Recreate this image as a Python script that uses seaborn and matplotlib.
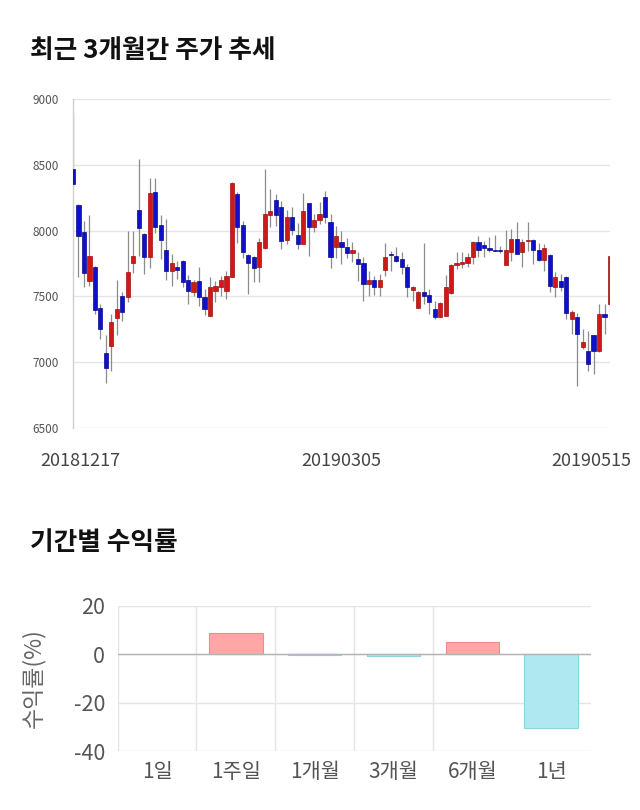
import numpy as np
import pandas as pd
import matplotlib
matplotlib.use('Agg')
import matplotlib.pyplot as plt
import matplotlib.transforms as mtransforms
import seaborn as sns

# ---------------- data: daily candles 20181217 .. 20190515 ----------------
opens = [8470, 8195, 7987, 7615, 7725, 7410, 7070, 7125, 7335, 7505,
         7497, 7753, 8157, 7974, 7796, 8292, 8045, 7855, 7695, 7725,
         7766, 7624, 7535, 7614, 7492, 7352, 7542, 7568, 7542, 7651,
         8279, 8045, 7817, 7796, 7725, 7865, 8122, 8236, 8177, 7928,
         8101, 7966, 7898, 8208, 8025, 8081, 8254, 8063, 7873, 7916,
         7873, 7827, 7784, 7753, 7593, 7624, 7573, 7702, 7822, 7804,
         7784, 7725, 7547, 7415, 7535, 7509, 7408, 7344, 7352, 7524,
         7740, 7746, 7753, 7801, 7916, 7893, 7867, 7848, 7855, 7740,
         7834, 7936, 7834, 7918, 7929, 7855, 7776, 7814, 7573, 7614,
         7644, 7326, 7344, 7116, 7085, 7207, 7085, 7367, 7441]
highs = [8890, 8200, 8075, 8120, 7730, 7445, 7205, 7365, 7625, 7530,
         8000, 8000, 8545, 7980, 8400, 8400, 8120, 8090, 7822, 7770,
         7776, 7664, 7624, 7725, 7555, 7645, 7620, 7657, 7695, 8373,
         8290, 8070, 7820, 7810, 7941, 8465, 8317, 8280, 8228, 8157,
         8177, 8055, 8284, 8210, 8127, 8216, 8300, 8127, 8038, 7994,
         7941, 7911, 7834, 7801, 7695, 7657, 7674, 7903, 7847, 7873,
         7834, 7746, 7580, 7542, 7903, 7555, 7466, 7460, 7664, 7746,
         7834, 7834, 7827, 7920, 7961, 7923, 7954, 7966, 7885, 8005,
         8012, 8063, 7936, 8063, 7935, 7903, 7898, 7822, 7682, 7669,
         7657, 7395, 7377, 7250, 7237, 7210, 7446, 7446, 7809]
lows = [8320, 7645, 7575, 7580, 7365, 7180, 6845, 6935, 7210, 7310,
        7455, 7675, 7810, 7670, 7715, 7985, 7785, 7625, 7580, 7630,
        7573, 7446, 7505, 7425, 7360, 7350, 7455, 7505, 7480, 7650,
        7903, 7795, 7522, 7606, 7606, 7860, 8025, 8038, 7860, 7898,
        7966, 7860, 7895, 7810, 7992, 8050, 8055, 7715, 7795, 7746,
        7791, 7758, 7619, 7466, 7504, 7512, 7504, 7657, 7695, 7758,
        7669, 7492, 7466, 7415, 7441, 7370, 7326, 7340, 7350, 7520,
        7707, 7715, 7720, 7746, 7801, 7796, 7834, 7842, 7827, 7735,
        7771, 7820, 7720, 7847, 7746, 7770, 7695, 7530, 7492, 7542,
        7326, 7212, 6818, 7098, 6933, 6907, 7080, 7212, 7339]
closes = [8355, 7960, 7680, 7805, 7395, 7250, 6955, 7305, 7405, 7385,
          7682, 7805, 8017, 7800, 8284, 8025, 7925, 7695, 7753, 7703,
          7611, 7542, 7606, 7492, 7408, 7568, 7580, 7626, 7657, 8365,
          8025, 7835, 7753, 7713, 7916, 8127, 8147, 8122, 7918, 8101,
          8005, 7898, 8147, 8030, 8081, 8127, 8106, 7796, 7961, 7873,
          7827, 7855, 7746, 7593, 7624, 7573, 7624, 7796, 7814, 7771,
          7725, 7568, 7568, 7535, 7504, 7461, 7344, 7453, 7568, 7740,
          7753, 7758, 7801, 7916, 7855, 7865, 7855, 7844, 7842, 7855,
          7936, 7822, 7916, 7929, 7855, 7776, 7867, 7580, 7644, 7573,
          7377, 7385, 7212, 7156, 6984, 7085, 7367, 7347, 7809]
date_tick_pos = [0, 49, 98]
date_tick_labels = ['20181217', '20190305', '20190515']
price_ticks = [6500, 7000, 7500, 8000, 8500, 9000]

# ---------------- data: period returns ----------------
periods = ['1일', '1주일', '1개월', '3개월', '6개월', '1년']
returns = [0.0, 8.9, -0.2, -0.7, 5.2, -30.3]
return_ticks = [20, 0, -20, -40]

# ---------------- style ----------------
sns.set_theme(style='white')
plt.rcParams['font.family'] = ['Noto Sans CJK KR', 'DejaVu Sans']

W, H = 640, 810
fig = plt.figure(figsize=(W / 100, H / 100), dpi=100)
fig.patch.set_facecolor('white')


def rect(l, t, r, b):
    return [l / W, 1 - b / H, (r - l) / W, (b - t) / H]


# ---------------- candle chart ----------------
df = pd.DataFrame({'open': opens, 'high': highs, 'low': lows, 'close': closes})
df['idx'] = np.arange(len(df))
df['up'] = df['close'] >= df['open']
df['bottom'] = df[['open', 'close']].min(axis=1)
df['height'] = (df['close'] - df['open']).abs().clip(lower=7)

ax1 = fig.add_axes(rect(73, 99, 610, 428))
ax1.set_facecolor('white')
for yv in price_ticks:
    ax1.axhline(yv, color='#e6e6e6', lw=1, zorder=0)

ax1.vlines(df['idx'], df['low'], df['high'], color='#8c8c8c', lw=0.9, zorder=2)
face = np.where(df['up'], '#d01818', '#1010c8')
edge = np.where(df['up'], '#a01010', '#08088c')
ax1.bar(df['idx'], df['height'], bottom=df['bottom'], width=0.76,
        color=face, edgecolor=edge, linewidth=0.5, zorder=3)

ax1.set_xlim(0, len(df) - 1)
ax1.set_ylim(6500, 9000)
ax1.set_yticks(price_ticks)
ax1.set_yticklabels([str(t) for t in price_ticks])
ax1.set_xticks(date_tick_pos)
ax1.set_xticklabels(date_tick_labels)
ax1.tick_params(axis='y', length=0, pad=10, labelsize=8.5, labelcolor='#555555')
ax1.tick_params(axis='x', length=0, pad=17, labelsize=13, labelcolor='#444444')
for s in ['top', 'right', 'bottom']:
    ax1.spines[s].set_visible(False)
ax1.spines['left'].set_color('#d0d0d0')
ax1.spines['left'].set_linewidth(1)

labs = ax1.get_xticklabels()
shifts = [7, 0, -19]
for lab, dx in zip(labs, shifts):
    lab.set_transform(lab.get_transform() +
                      mtransforms.ScaledTranslation(dx / 100, 0, fig.dpi_scale_trans))

# ---------------- returns bar chart ----------------
ax2 = fig.add_axes(rect(117.6, 605.7, 590.6, 751))
ax2.set_facecolor('white')
pal = ['#ffa6a6' if v > 0 else '#b0e8f2' for v in returns]
edges = ['#f08c8c' if v > 0 else ('#8fd3e0' if v < 0 else 'none') for v in returns]
sns.barplot(x=periods, y=returns, hue=periods, hue_order=periods, order=periods,
            palette=pal, legend=False, width=0.68, saturation=1, ax=ax2, zorder=3)
for patch, ec in zip(ax2.patches, edges):
    patch.set_edgecolor(ec)
    patch.set_linewidth(0.8)

ax2.set_xlim(-0.5, 5.5)
ax2.set_ylim(-40, 20)
ax2.set_yticks(return_ticks)
ax2.set_yticklabels([str(t) for t in return_ticks])
ax2.set_xticks(np.arange(len(periods)))
ax2.set_xticklabels(periods)
ax2.set_xticks(np.arange(len(periods) - 1) - 0.5, minor=True)
ax2.grid(axis='y', which='major', color='#e4e4e4', lw=1, zorder=0)
ax2.grid(axis='x', which='minor', color='#e4e4e4', lw=1, zorder=0)
ax2.grid(axis='x', which='major', visible=False)
ax2.axhline(0, color='#b4b4b4', lw=1, zorder=4)
ax2.tick_params(axis='both', which='both', length=0)
ax2.tick_params(axis='y', pad=9, labelsize=15.5, labelcolor='#555555')
ax2.tick_params(axis='x', pad=7, labelsize=15, labelcolor='#555555')
for s in ax2.spines.values():
    s.set_visible(False)
ax2.set_ylabel('수익률(%)', fontsize=16.5, color='#666666')
ax2.yaxis.set_label_coords((45 - 117.6) / (590.6 - 117.6), 0.5)

# ---------------- titles ----------------
fig.text(30 / W, 1 - 51 / H, '최근 3개월간 주가 추세', fontsize=18.5,
         fontweight='bold', va='center', ha='left', color='#111111')
fig.text(30 / W, 1 - 543 / H, '기간별 수익률', fontsize=18.5,
         fontweight='bold', va='center', ha='left', color='#111111')

fig.savefig('out.png', dpi=100, facecolor='white')
